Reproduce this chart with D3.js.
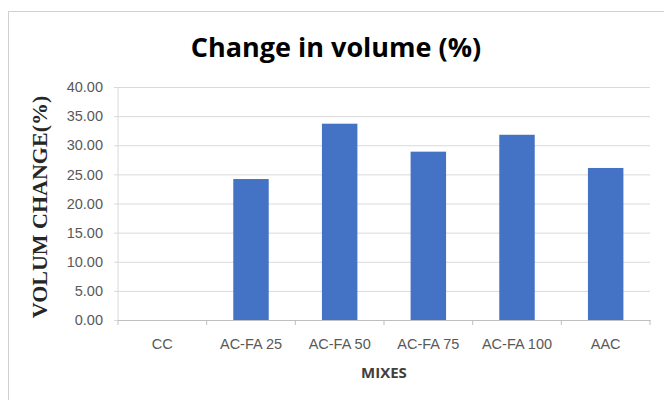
<!DOCTYPE html>
<html>
<head>
<meta charset="utf-8">
<script src="https://cdn.jsdelivr.net/npm/d3@7"></script>
<style>
  body { margin: 0; background: #fff; }
  svg { display: block; }
</style>
</head>
<body>
<svg id="chart" width="664" height="400"></svg>
<script>
// chart data
var mixes = ['CC', 'AC-FA 25', 'AC-FA 50', 'AC-FA 75', 'AC-FA 100', 'AAC'];
var volumeChange = [0, 24.2, 33.7, 28.9, 31.8, 26.1];
var yTicks = [0, 5, 10, 15, 20, 25, 30, 35, 40];

var svg = d3.select('#chart');
var margin = { top: 87, right: 14, bottom: 80, left: 118 };
var width = 664 - margin.left - margin.right;
var height = 400 - margin.top - margin.bottom;

// outer chart border
svg.append('rect')
   .attr('x', 8.5).attr('y', 11.5)
   .attr('width', 700).attr('height', 420)
   .attr('fill', 'none')
   .attr('stroke', '#d0d0d0');

var g = svg.append('g')
           .attr('transform', 'translate(' + margin.left + ',' + margin.top + ')');

var x = d3.scaleBand()
          .domain(mixes)
          .range([0, width])
          .paddingInner(0.6)
          .paddingOuter(0.3);

var y = d3.scaleLinear()
          .domain([0, 40])
          .range([height, 0]);

// y axis with gridlines
g.append('g')
  .call(d3.axisLeft(y)
    .tickValues(yTicks)
    .tickSize(-width - 4)
    .tickPadding(15)
    .tickFormat(d3.format('.2f')))
  .call(g => g.select('.domain').remove())
  .call(g => g.selectAll('.tick line')
    .attr('x1', -4)
    .attr('x2', width)
    .attr('stroke', '#d9d9d9'))
  .call(g => g.selectAll('.tick text')
    .attr('fill', '#595959')
    .attr('font-family', 'Liberation Sans, sans-serif')
    .attr('font-size', '14.5px'));

// vertical axis line
g.append('line')
  .attr('x1', 0).attr('x2', 0)
  .attr('y1', 0).attr('y2', height)
  .attr('stroke', '#d9d9d9');

// bars
g.selectAll('rect.bar')
  .data(volumeChange)
  .enter()
  .append('rect')
  .attr('class', 'bar')
  .attr('x', (d, i) => x(mixes[i]))
  .attr('y', d => y(d))
  .attr('width', x.bandwidth())
  .attr('height', d => height - y(d))
  .attr('fill', '#4472c4');

// x axis
g.append('g')
  .attr('transform', 'translate(0,' + height + ')')
  .call(d3.axisBottom(x).tickSize(0).tickPadding(19))
  .call(g => g.select('.domain').attr('stroke', '#bfbfbf'))
  .call(g => g.selectAll('.tick text')
    .attr('fill', '#595959')
    .attr('font-family', 'Liberation Sans, sans-serif')
    .attr('font-size', '14.5px'));

// category separators on the x axis
g.append('g')
  .selectAll('line')
  .data(d3.range(mixes.length + 1))
  .enter()
  .append('line')
  .attr('x1', i => i * width / mixes.length)
  .attr('x2', i => i * width / mixes.length)
  .attr('y1', height)
  .attr('y2', height + 5)
  .attr('stroke', '#bfbfbf');

// title
svg.append('text')
   .attr('x', 336)
   .attr('y', 57)
   .attr('text-anchor', 'middle')
   .attr('font-family', 'Open Sans, sans-serif')
   .attr('font-weight', '700')
   .attr('font-size', '27px')
   .attr('fill', '#000')
   .text('Change in volume (%)');

// axis titles
svg.append('text')
   .attr('transform', 'translate(47,207) rotate(-90)')
   .attr('text-anchor', 'middle')
   .attr('font-family', 'Liberation Serif, serif')
   .attr('font-weight', '700')
   .attr('font-size', '22px')
   .attr('fill', '#262626')
   .text('VOLUM CHANGE(%)');

svg.append('text')
   .attr('x', 384)
   .attr('y', 378)
   .attr('text-anchor', 'middle')
   .attr('font-family', 'Open Sans, sans-serif')
   .attr('font-weight', '700')
   .attr('font-size', '15px')
   .attr('fill', '#404040')
   .text('MIXES');
</script>
</body>
</html>
